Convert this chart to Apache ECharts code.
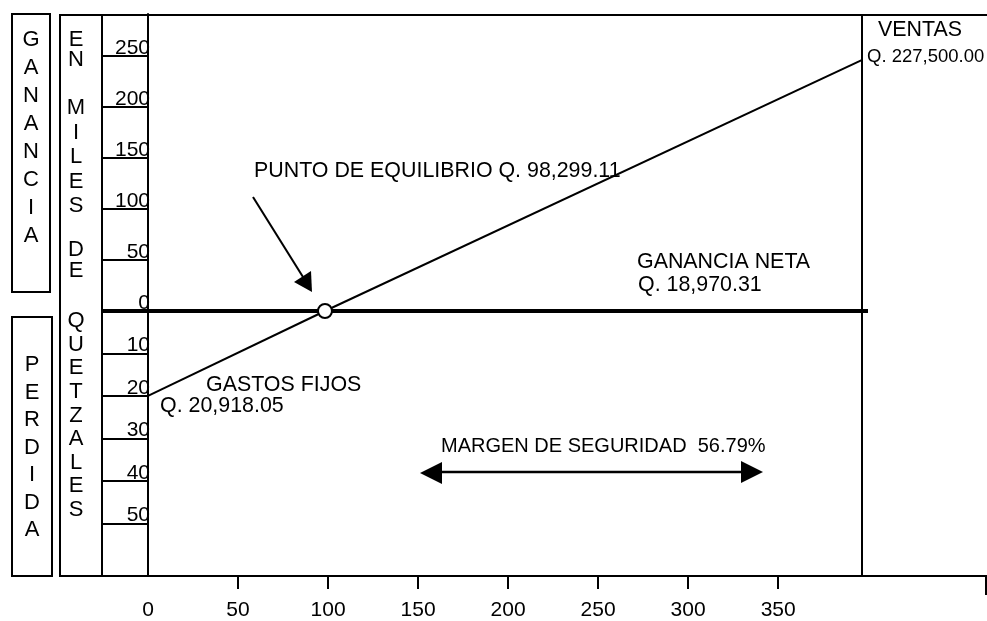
<!DOCTYPE html>
<html>
<head>
<meta charset="utf-8">
<script src="https://cdn.jsdelivr.net/npm/echarts@6/dist/echarts.min.js"></script>
<style>
  html, body { margin: 0; padding: 0; background: #fff; }
  #chart { width: 987px; height: 621px; }
</style>
</head>
<body>
<div id="chart"></div>
<script>
// valores en miles de quetzales
const xLabels = [0, 50, 100, 150, 200, 250, 300, 350];
const xTicks = [50, 100, 150, 200, 250, 300, 350];
const gainLabels = [0, 50, 100, 150, 200, 250];
const gainTicks = [50, 100, 150, 200, 250];
const lossLabels = [10, 20, 30, 40, 50];
const breakEven = 98.3;      // punto de equilibrio
const fixedCost = 20;        // gastos fijos (perdida en 0)
const salesEnd = [396.7, 246]; // extremo de la linea de ventas

const font = "'Liberation Sans', Arial, sans-serif";
const black = '#000';

const chart = echarts.init(document.getElementById('chart'));

const yAxisCommon = {
  type: 'value',
  axisLine: { show: true, onZero: false, lineStyle: { color: black, width: 2 } },
  axisTick: { show: true, length: 45, lineStyle: { color: black, width: 2 } },
  axisLabel: {
    margin: -2,
    color: black,
    fontSize: 21,
    fontFamily: font,
    verticalAlign: 'bottom',
    lineHeight: 16
  },
  splitLine: { show: false }
};

// letras verticales de los recuadros
const vText = (str, x, y, lh, size) => ({
  type: 'text',
  x: x,
  y: y,
  style: {
    text: str.split('').join('\n'),
    font: (size || 22) + 'px ' + font,
    fill: black,
    align: 'center',
    verticalAlign: 'middle',
    lineHeight: lh
  }
});

const label = (str, x, y, size) => ({
  type: 'text',
  x: x,
  y: y,
  style: {
    text: str,
    font: (size || 21.4) + 'px ' + font,
    fill: black,
    align: 'left',
    verticalAlign: 'middle'
  }
});

const line = (x1, y1, x2, y2, w) => ({
  type: 'line',
  shape: { x1, y1, x2, y2 },
  style: { stroke: black, lineWidth: w || 2 }
});

const rect = (x, y, width, height) => ({
  type: 'rect',
  shape: { x, y, width, height },
  style: { fill: 'none', stroke: black, lineWidth: 2 }
});

const tri = (points) => ({
  type: 'polygon',
  shape: { points },
  style: { fill: black }
});

const option = {
  backgroundColor: '#fff',
  animation: false,
  grid: [
    { left: 148, right: 0, top: 14, bottom: 310 },
    { left: 148, right: 0, top: 311, bottom: 45 }
  ],
  xAxis: [
    { gridIndex: 0, type: 'value', min: 0, max: 466, show: false },
    {
      gridIndex: 1,
      type: 'value',
      position: 'bottom',
      min: 0,
      max: 466,
      axisLine: { show: true, onZero: false, lineStyle: { color: black, width: 2 } },
      axisTick: { show: true, customValues: xTicks, length: 13, lineStyle: { color: black, width: 2 } },
      axisLabel: { customValues: xLabels, margin: 24, color: black, fontSize: 21, fontFamily: font },
      splitLine: { show: false }
    }
  ],
  yAxis: [
    Object.assign({}, yAxisCommon, {
      gridIndex: 0,
      min: 0,
      max: 291,
      axisTick: Object.assign({}, yAxisCommon.axisTick, { customValues: gainTicks }),
      axisLabel: Object.assign({}, yAxisCommon.axisLabel, { customValues: gainLabels })
    }),
    Object.assign({}, yAxisCommon, {
      gridIndex: 1,
      min: 0,
      max: 62.4,
      inverse: true,
      axisTick: Object.assign({}, yAxisCommon.axisTick, { customValues: lossLabels }),
      axisLabel: Object.assign({}, yAxisCommon.axisLabel, { customValues: lossLabels })
    })
  ],
  series: [
    {
      type: 'line',
      xAxisIndex: 0,
      yAxisIndex: 0,
      data: [[breakEven, 0], salesEnd],
      symbol: 'none',
      lineStyle: { color: black, width: 2 },
      z: 3
    },
    {
      type: 'line',
      xAxisIndex: 1,
      yAxisIndex: 1,
      data: [[0, fixedCost], [breakEven, 0]],
      symbol: 'none',
      lineStyle: { color: black, width: 2 },
      z: 3
    },
    {
      type: 'scatter',
      xAxisIndex: 0,
      yAxisIndex: 0,
      data: [[breakEven, 0]],
      symbol: 'circle',
      symbolSize: 14,
      itemStyle: { color: '#fff', borderColor: black, borderWidth: 2, opacity: 1 },
      z: 10
    }
  ],
  graphic: [
    // recuadros de la izquierda
    rect(12, 14, 38, 278),
    rect(12, 317, 40, 259),
    rect(60, 15, 42, 561),
    vText('GANANCIA', 31, 137.5, 28),
    vText('PERDIDA', 32, 447.5, 27.5),
    vText('EN', 76, 50, 20),
    vText('MILES', 76, 157, 24.5),
    vText('DE', 76, 260.5, 21),
    vText('QUETZALES', 76, 415.5, 23.6),
    // marco
    line(102, 15, 987, 15),
    line(862, 15, 862, 576),
    line(102, 576, 148, 576),
    line(986, 576, 986, 595),
    line(101, 311, 868, 311, 4),
    // textos
    label('VENTAS', 878, 30),
    label('Q. 227,500.00', 867, 57, 18.5),
    label('PUNTO DE EQUILIBRIO Q. 98,299.11', 254, 171),
    label('GANANCIA NETA', 637, 262),
    label('Q. 18,970.31', 638, 285),
    label('GASTOS FIJOS', 206, 385.5),
    label('Q. 20,918.05', 160, 406),
    label('MARGEN DE SEGURIDAD  56.79%', 441, 446, 20),
    // flecha al punto de equilibrio
    line(253, 197, 303, 277),
    tri([[312, 292], [311, 271], [294, 282]]),
    // flecha margen de seguridad
    line(435, 472, 748, 472, 2.5),
    tri([[420, 473], [442, 462], [442, 484]]),
    tri([[763, 472], [741, 461], [741, 483]])
  ]
};

chart.setOption(option);
</script>
</body>
</html>
